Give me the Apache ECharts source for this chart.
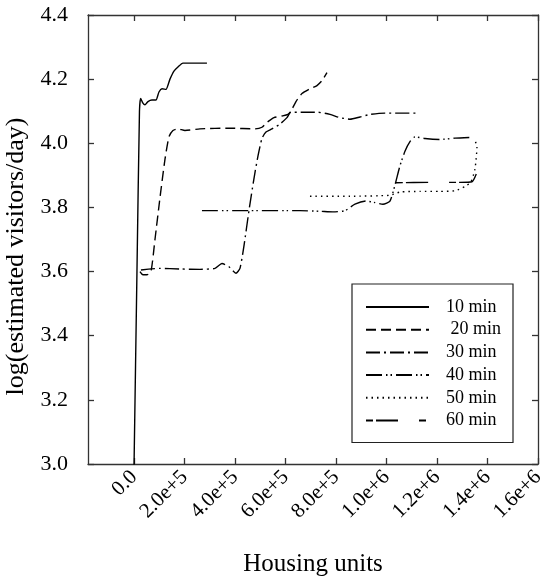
<!DOCTYPE html>
<html>
<head>
<meta charset="utf-8">
<script src="https://cdn.jsdelivr.net/npm/echarts@6/dist/echarts.min.js"></script>
<style>
  html, body { margin: 0; padding: 0; background: #fff; }
  #chart { width: 547px; height: 586px; }
</style>
</head>
<body>
<div id="chart"></div>
<script>
// valeurs : [logements, log(visiteurs/jour)]
var legendNames = ['10 min', ' 20 min', '30 min', '40 min', '50 min', '60 min'];
var xTicks = [0, 200000, 400000, 600000, 800000, 1000000, 1200000, 1400000, 1600000];

var min10 = [
  [0, 2.98], [11900, 3.60], [21800, 4.10], [26500, 4.14], [35600, 4.125], [43600, 4.12],
  [55400, 4.13], [71300, 4.135], [87100, 4.135], [99000, 4.16], [110900, 4.17],
  [126700, 4.168], [142600, 4.20], [158400, 4.225], [174200, 4.238], [194000, 4.25], [289000, 4.25]
];
var min20 = [
  [23800, 3.60], [35600, 3.59], [51500, 3.59], [67300, 3.60], [83200, 3.70], [103000, 3.83],
  [122800, 3.95], [138600, 4.02], [154400, 4.04], [174200, 4.045], [202000, 4.04],
  [261400, 4.045], [380200, 4.047], [479200, 4.045], [506900, 4.05], [526700, 4.065],
  [554400, 4.08], [586100, 4.085], [609800, 4.09], [621700, 4.10], [641500, 4.13],
  [665300, 4.155], [697000, 4.17], [724700, 4.18], [744500, 4.195], [764300, 4.22]
];
var min30 = [
  [27700, 3.605], [103000, 3.61], [182200, 3.608], [261400, 3.607], [320800, 3.61],
  [348500, 3.625], [376200, 3.615], [403900, 3.595], [419800, 3.61], [435600, 3.68],
  [455400, 3.79], [475200, 3.89], [491000, 3.96], [506900, 4.015], [522700, 4.035],
  [546500, 4.045], [578200, 4.06], [605900, 4.08], [621700, 4.097], [724700, 4.097],
  [776200, 4.09], [815800, 4.08], [855400, 4.075], [895000, 4.082], [934600, 4.09],
  [994000, 4.094], [1120700, 4.094]
];
var min40 = [
  [269300, 3.79], [459400, 3.79], [657400, 3.79], [736600, 3.788], [788000, 3.786],
  [835600, 3.79], [875200, 3.81], [918700, 3.82], [954400, 3.815], [986000, 3.81],
  [1013800, 3.82], [1033600, 3.87], [1053400, 3.93], [1073200, 3.975], [1093000, 4.005],
  [1112800, 4.02], [1152400, 4.015], [1211800, 4.012], [1271200, 4.016], [1330600, 4.018]
];
var min50 = [
  [697000, 3.835], [855400, 3.835], [1013800, 3.838], [1053400, 3.848], [1132600, 3.85],
  [1211800, 3.85], [1271200, 3.852], [1310800, 3.865], [1334500, 3.88], [1350400, 3.92],
  [1358300, 3.99], [1346400, 4.015]
];
var min60 = [
  [1037500, 3.877], [1172200, 3.878], [1291000, 3.878], [1338500, 3.88], [1358300, 3.91],
  [1378100, 3.955]
];

var allData = [min10, min20, min30, min40, min50, min60];
var dashes = ['solid', [10, 5], [14, 4, 2, 4], [16, 4, 1.5, 3, 1.5, 4], [1.5, 4], [7, 3, 22, 21]];

var serif = 'Liberation Serif';
var axisColor = '#333';

function fmtX(v) {
  if (v === 0) return '0.0';
  var e = Math.floor(Math.log10(v));
  return (v / Math.pow(10, e)).toFixed(1) + 'e+' + e;
}

var chart = echarts.init(document.getElementById('chart'));

var series = allData.map(function(d, i) {
  return {
    name: legendNames[i],
    type: 'line',
    data: d,
    symbol: 'none',
    smooth: 0.2,
    clip: true,
    lineStyle: { color: '#000', width: 1.4, type: dashes[i] },
    itemStyle: { color: '#000' }
  };
});

chart.setOption({
  animation: false,
  backgroundColor: '#fff',
  grid: { left: 88, right: 9, top: 15, bottom: 122, containLabel: false, outerBoundsMode: 'none' },
  legend: {
    orient: 'vertical',
    left: 352,
    top: 284,
    data: legendNames,
    itemWidth: 63,
    itemHeight: 14,
    itemGap: 4.7,
    padding: [14, 12, 13, 13],
    borderColor: '#222',
    borderWidth: 1.2,
    itemStyle: { opacity: 0 },
    textStyle: { fontFamily: serif, fontSize: 18, lineHeight: 18, color: '#000', padding: [0, 0, 0, 12] }
  },
  xAxis: [{
    type: 'value',
    min: -182000,
    max: 1600000,
    name: 'Housing units',
    nameLocation: 'middle',
    nameGap: 88,
    nameTextStyle: { fontFamily: serif, fontSize: 25, color: '#000' },
    axisLine: { onZero: false, lineStyle: { color: axisColor, width: 1.3 } },
    axisTick: { inside: true, length: 6, customValues: xTicks, lineStyle: { color: axisColor, width: 1.3 } },
    axisLabel: {
      customValues: xTicks, rotate: 45, margin: 10, formatter: fmtX,
      fontFamily: serif, fontSize: 21, color: '#000'
    },
    splitLine: { show: false }
  }, {
    type: 'value',
    position: 'top',
    min: -182000,
    max: 1600000,
    axisLine: { onZero: false, lineStyle: { color: axisColor, width: 1.3 } },
    axisTick: { inside: true, length: 6, customValues: xTicks, lineStyle: { color: axisColor, width: 1.3 } },
    axisLabel: { show: false },
    splitLine: { show: false }
  }],
  yAxis: [{
    type: 'value',
    min: 3.0,
    max: 4.4,
    interval: 0.2,
    name: 'log(estimated visitors/day)',
    nameLocation: 'middle',
    nameGap: 49,
    nameTextStyle: { fontFamily: serif, fontSize: 26, color: '#000', padding: [0, 34, 0, 0] },
    axisLine: { onZero: false, lineStyle: { color: axisColor, width: 1.3 } },
    axisTick: { inside: true, length: 6, lineStyle: { color: axisColor, width: 1.3 } },
    axisLabel: {
      margin: 20, fontFamily: serif, fontSize: 22, color: '#000',
      formatter: function(v) { return v.toFixed(1); }
    },
    splitLine: { show: false }
  }, {
    type: 'value',
    position: 'right',
    min: 3.0,
    max: 4.4,
    interval: 0.2,
    axisLine: { onZero: false, lineStyle: { color: axisColor, width: 1.3 } },
    axisTick: { inside: true, length: 6, lineStyle: { color: axisColor, width: 1.3 } },
    axisLabel: { show: false },
    splitLine: { show: false }
  }],
  series: series
});
</script>
</body>
</html>
